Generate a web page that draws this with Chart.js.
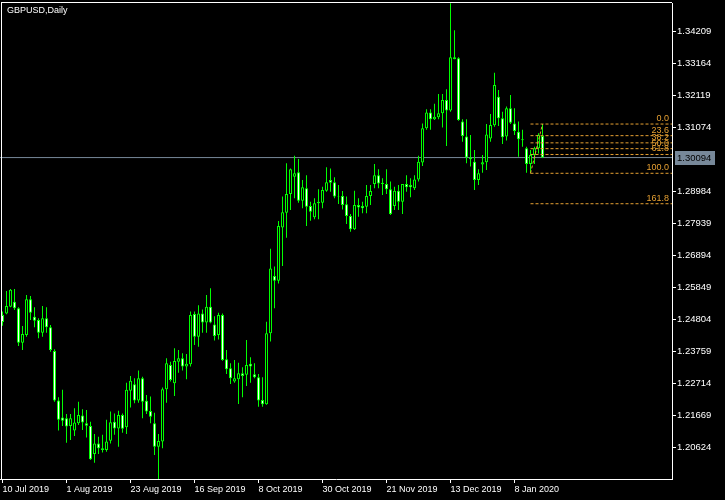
<!DOCTYPE html>
<html>
<head>
<meta charset="utf-8">
<script src="https://cdn.jsdelivr.net/npm/chart.js@4.4.0/dist/chart.umd.min.js"></script>
<style>
html, body { margin: 0; padding: 0; background: #000; }
canvas { display: block; }
</style>
</head>
<body>
<canvas id="chart1" width="725" height="500"></canvas>
<script>
// GBPUSD daily, 10 Jul 2019 - 17 Jan 2020
const symbolTitle = "GBPUSD,Daily";

const opens = [
    1.2495,1.2500,1.2522,1.2538,1.2517,1.2404,1.2429,1.2546,1.2489,1.2478,
    1.2437,1.2484,1.2455,1.2377,1.2215,1.2160,1.2157,1.2132,1.2117,1.2141,
    1.2166,1.2141,1.2132,1.2040,1.2075,1.2053,1.2053,1.2084,1.2146,1.2124,
    1.2168,1.2128,1.2247,1.2268,1.2215,1.2288,1.2214,1.2181,1.2141,1.2064,
    1.2081,1.2252,1.2331,1.2272,1.2342,1.2353,1.2326,1.2334,1.2498,1.2424,
    1.2500,1.2470,1.2522,1.2464,1.2429,1.2495,1.2350,1.2321,1.2277,1.2285,
    1.2304,1.2299,1.2335,1.2301,1.2291,1.2217,1.2203,1.2435,1.2622,1.2607,
    1.2781,1.2829,1.2890,1.2947,1.2961,1.2868,1.2909,1.2851,1.2814,1.2860,
    1.2862,1.2901,1.2936,1.2929,1.2884,1.2884,1.2857,1.2818,1.2775,1.2854,
    1.2851,1.2849,1.2884,1.2923,1.2952,1.2927,1.2923,1.2906,1.2851,1.2901,
    1.2865,1.2923,1.2920,1.2909,1.2938,1.2993,1.3105,1.3157,1.3135,1.3141,
    1.3154,1.3198,1.3163,1.3337,1.3334,1.3127,1.3078,1.3010,1.2996,1.2936,
    1.2987,1.2994,1.3072,1.3115,1.3208,1.3138,1.3078,1.3171,1.3121,1.3094,
    1.3069,1.3040,1.2988,1.3018,1.3040,1.3080
];

const highs = [
    1.2506,1.2573,1.2580,1.2580,1.2520,1.2459,1.2560,1.2557,1.2520,1.2484,
    1.2524,1.2520,1.2462,1.2383,1.2226,1.2250,1.2171,1.2171,1.2190,1.2211,
    1.2187,1.2184,1.2146,1.2106,1.2097,1.2103,1.2152,1.2179,1.2173,1.2182,
    1.2173,1.2273,1.2295,1.2288,1.2313,1.2293,1.2233,1.2228,1.2175,1.2106,
    1.2258,1.2353,1.2342,1.2386,1.2380,1.2370,1.2367,1.2506,1.2506,1.2527,
    1.2513,1.2560,1.2582,1.2491,1.2502,1.2500,1.2380,1.2337,1.2348,1.2339,
    1.2324,1.2413,1.2357,1.2337,1.2302,1.2291,1.2473,1.2711,1.2653,1.2802,
    1.2882,1.2991,1.2974,1.3015,1.3005,1.2936,1.2952,1.2865,1.2876,1.2906,
    1.2914,1.2978,1.2974,1.2945,1.2920,1.2900,1.2882,1.2825,1.2901,1.2876,
    1.2865,1.2920,1.2920,1.2988,1.2971,1.2942,1.2971,1.2931,1.2914,1.2920,
    1.2923,1.2952,1.2942,1.2952,1.3015,1.3121,1.3167,1.3167,1.3185,1.3217,
    1.3217,1.3233,1.3514,1.3426,1.3337,1.3135,1.3135,1.3083,1.3034,1.2971,
    1.3018,1.3119,1.3152,1.3287,1.3230,1.3159,1.3176,1.3214,1.3171,1.3127,
    1.3100,1.3045,1.3034,1.3045,1.3089,1.3119
];

const lows = [
    1.2460,1.2497,1.2520,1.2511,1.2393,1.2380,1.2424,1.2478,1.2455,1.2419,
    1.2424,1.2437,1.2375,1.2211,1.2117,1.2132,1.2077,1.2086,1.2099,1.2135,
    1.2119,1.2094,1.2021,1.2012,1.2040,1.2045,1.2048,1.2075,1.2103,1.2064,
    1.2110,1.2106,1.2192,1.2206,1.2208,1.2157,1.2171,1.2141,1.2037,1.1957,
    1.2059,1.2208,1.2277,1.2230,1.2306,1.2313,1.2285,1.2326,1.2397,1.2391,
    1.2437,1.2437,1.2468,1.2411,1.2415,1.2345,1.2302,1.2269,1.2273,1.2204,
    1.2226,1.2263,1.2273,1.2288,1.2195,1.2195,1.2201,1.2408,1.2517,1.2598,
    1.2655,1.2747,1.2838,1.2876,1.2862,1.2844,1.2786,1.2803,1.2808,1.2808,
    1.2844,1.2898,1.2898,1.2876,1.2858,1.2840,1.2792,1.2767,1.2773,1.2816,
    1.2827,1.2827,1.2854,1.2909,1.2909,1.2887,1.2890,1.2822,1.2838,1.2838,
    1.2825,1.2898,1.2880,1.2903,1.2931,1.2982,1.3100,1.3100,1.3132,1.3135,
    1.3108,1.3047,1.3159,1.3331,1.3130,1.3061,1.2991,1.2980,1.2903,1.2920,
    1.2960,1.2969,1.3061,1.3110,1.3113,1.3054,1.3065,1.3119,1.3083,1.3012,
    1.3045,1.2960,1.2958,1.2988,1.3023,1.3008
];

const closes = [
    1.2472,1.2524,1.2577,1.2517,1.2404,1.2433,1.2546,1.2502,1.2476,1.2437,
    1.2484,1.2455,1.2380,1.2215,1.2152,1.2149,1.2130,1.2157,1.2143,1.2168,
    1.2143,1.2133,1.2023,1.2075,1.2059,1.2059,1.2081,1.2144,1.2124,1.2168,
    1.2123,1.2250,1.2280,1.2215,1.2288,1.2211,1.2179,1.2162,1.2064,1.2083,
    1.2252,1.2337,1.2282,1.2344,1.2353,1.2326,1.2335,1.2495,1.2424,1.2500,
    1.2470,1.2522,1.2470,1.2426,1.2495,1.2348,1.2317,1.2288,1.2288,1.2304,
    1.2295,1.2331,1.2326,1.2291,1.2215,1.2203,1.2435,1.2647,1.2607,1.2786,
    1.2831,1.2890,1.2971,1.2958,1.2868,1.2912,1.2849,1.2832,1.2860,1.2865,
    1.2903,1.2929,1.2927,1.2882,1.2882,1.2854,1.2818,1.2775,1.2854,1.2846,
    1.2844,1.2884,1.2900,1.2952,1.2925,1.2923,1.2906,1.2825,1.2901,1.2865,
    1.2923,1.2912,1.2912,1.2938,1.2996,1.3105,1.3157,1.3135,1.3143,1.3154,
    1.3198,1.3163,1.3337,1.3331,1.3132,1.3080,1.3010,1.3004,1.2936,1.2958,
    1.2994,1.3085,1.3116,1.3247,1.3138,1.3076,1.3171,1.3123,1.3096,1.3069,
    1.3066,1.2988,1.3018,1.3040,1.3083,1.30094
];

const xTickIndex = [0, 16, 32, 48, 64, 80, 96, 112, 128];
const xTickLabels = ["10 Jul 2019", "1 Aug 2019", "23 Aug 2019", "16 Sep 2019", "8 Oct 2019",
                     "30 Oct 2019", "21 Nov 2019", "13 Dec 2019", "8 Jan 2020"];

const priceTicks = [1.34209, 1.33164, 1.32119, 1.31074, 1.28984, 1.27939, 1.26894,
                    1.25849, 1.24804, 1.23759, 1.22714, 1.21669, 1.20624];

const lastPrice = 1.30094;

// fibo retracement drawn from the swing low bar to the swing high bar
const fibLevels = [0.0, 23.6, 38.2, 50.0, 61.8, 100.0, 161.8];
const fibLowBar = 132;
const fibHighBar = 135;

const X_MIN = -0.625, X_MAX = 167.375;
const Y_MIN = 1.19586, Y_MAX = 1.35147;
const LIME = "#00ff00";
const FIB_COLOR = "#e6a032";

Chart.defaults.font.family = "'Liberation Sans', Arial, sans-serif";
Chart.defaults.color = "#ffffff";

const idx = opens.map((_v, i) => i);
const bodies = idx.map(i => ({x: i, y: [Math.min(opens[i], closes[i]), Math.max(opens[i], closes[i])]}));
const wicks = idx.map(i => ({x: i, y: [lows[i], highs[i]]}));
const bodyFill = idx.map(i => closes[i] < opens[i] ? "#ffffff" : "#000000");

const fibLow = lows[fibLowBar];
const fibHigh = highs[fibHighBar];
const fibPrices = fibLevels.map(lv => fibHigh - (fibHigh - fibLow) * lv / 100);
const fibData = [];
fibPrices.forEach(p => {
    fibData.push({x: fibLowBar, y: p});
    fibData.push({x: X_MAX, y: p});
    fibData.push({x: X_MAX, y: null});
});

const overlay = {
    id: "overlay",
    afterDraw(chart) {
        const c = chart.ctx;
        const y = chart.scales.y;
        const area = chart.chartArea;
        c.save();
        // frame
        c.fillStyle = "#ffffff";
        c.fillRect(1, 2, area.right - 1, 1);
        c.fillRect(1, 2, 1, area.bottom - 2);

        c.font = "9px 'Liberation Sans', Arial";
        c.textBaseline = "top";
        c.textAlign = "left";
        c.fillText(symbolTitle, 7, 6);

        // fibo level labels
        c.fillStyle = FIB_COLOR;
        c.textAlign = "right";
        c.textBaseline = "alphabetic";
        fibLevels.forEach((lv, i) => {
            c.fillText(lv.toFixed(1), area.right - 3, y.getPixelForValue(fibPrices[i]) - 3);
        });

        // bid label on the price axis
        const py = Math.round(y.getPixelForValue(lastPrice));
        c.fillStyle = "#778899";
        c.fillRect(area.right + 3, py - 7, 40, 14);
        c.fillStyle = "#000000";
        c.textAlign = "left";
        c.textBaseline = "middle";
        c.font = "9.5px 'Liberation Sans', Arial";
        c.fillText(lastPrice.toFixed(5), area.right + 5, py + 0.5);
        c.restore();
    }
};

new Chart(document.getElementById("chart1"), {
    type: "bar",
    data: {
        datasets: [
            {
                label: "body",
                data: bodies,
                backgroundColor: bodyFill,
                borderColor: LIME,
                borderWidth: 1,
                borderSkipped: false,
                barThickness: 3,
                grouped: false,
                inflateAmount: 0,
                order: 1
            },
            {
                label: "wick",
                data: wicks,
                backgroundColor: LIME,
                borderWidth: 0,
                barThickness: 1,
                grouped: false,
                inflateAmount: 0,
                order: 2
            },
            {
                type: "line",
                label: "bid",
                data: [{x: X_MIN, y: lastPrice}, {x: X_MAX, y: lastPrice}],
                borderColor: "#778899",
                borderWidth: 1,
                pointRadius: 0,
                order: 3
            },
            {
                type: "line",
                label: "fibo",
                data: fibData,
                borderColor: FIB_COLOR,
                borderWidth: 1,
                borderDash: [3, 2],
                pointRadius: 0,
                spanGaps: false,
                order: 0
            },
            {
                type: "line",
                label: "fibo trend",
                data: [{x: fibLowBar, y: fibLow}, {x: fibHighBar, y: fibHigh}],
                borderColor: FIB_COLOR,
                borderWidth: 1,
                borderDash: [3, 2],
                pointRadius: 0,
                order: 0
            }
        ]
    },
    options: {
        responsive: false,
        animation: false,
        events: [],
        layout: { padding: { top: 3, left: 0, right: 0, bottom: 0 } },
        plugins: {
            legend: { display: false },
            tooltip: { enabled: false }
        },
        scales: {
            x: {
                type: "linear",
                min: X_MIN,
                max: X_MAX,
                offset: false,
                bounds: "data",
                grid: { display: true, drawOnChartArea: false, drawTicks: true, tickLength: 4, tickColor: "#ffffff", offset: false },
                border: { display: true, color: "#ffffff" },
                ticks: {
                    color: "#ffffff",
                    font: { size: 9 },
                    align: "start",
                    maxRotation: 0,
                    minRotation: 0,
                    autoSkip: false,
                    padding: 1,
                    callback: v => xTickLabels[xTickIndex.indexOf(v)]
                },
                afterBuildTicks: s => { s.ticks = xTickIndex.map(v => ({value: v})); },
                afterFit: s => { s.height = 21; s.paddingLeft = 0; s.paddingRight = 0; }
            },
            y: {
                type: "linear",
                position: "right",
                min: Y_MIN,
                max: Y_MAX,
                bounds: "data",
                grid: { display: true, drawOnChartArea: false, drawTicks: true, tickLength: 4, tickColor: "#ffffff" },
                border: { display: true, color: "#ffffff" },
                ticks: {
                    color: "#ffffff",
                    font: { size: 9.5 },
                    padding: 1,
                    autoSkip: false,
                    callback: v => v.toFixed(5)
                },
                afterBuildTicks: s => { s.ticks = priceTicks.map(v => ({value: v})); },
                afterFit: s => { s.width = 53; s.paddingTop = 0; s.paddingBottom = 0; }
            }
        }
    },
    plugins: [overlay]
});
</script>
</body>
</html>
